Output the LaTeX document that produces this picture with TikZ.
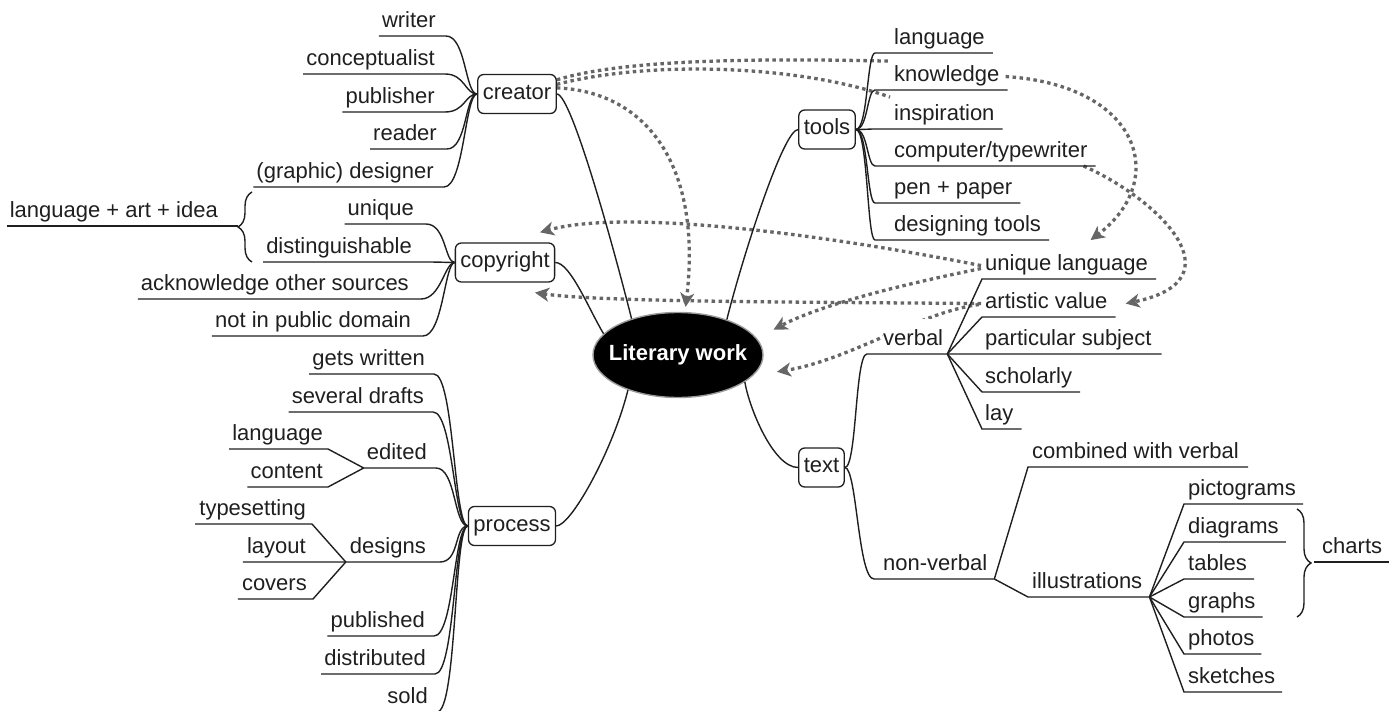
\documentclass[tikz,border=0pt]{standalone}
\usepackage{fontspec}
\setmainfont{Liberation Sans}
\usetikzlibrary{arrows.meta,decorations.pathreplacing,shapes.geometric}
\pgfdeclarelayer{bg}
\pgfsetlayers{bg,main}

\begin{document}
\begin{tikzpicture}[x=1pt,y=-1pt,
  font=\fontsize{22}{26}\selectfont,
  leaf/.style={inner xsep=0pt, inner ysep=2.5pt, text height=16pt, text depth=5.5pt, text=black!88},
  lft/.style={leaf, anchor=south east},
  rgt/.style={leaf, anchor=south west},
  topic/.style={draw=black!88, line width=1.3pt, rounded corners=6pt, fill=white,
    inner xsep=5pt, inner ysep=2pt, minimum height=39pt, text height=16pt, text depth=5.5pt, text=black!88},
  core/.style={ellipse, fill=black, draw=black!40, line width=1.4pt, minimum width=170pt,
    minimum height=85pt, inner sep=0pt, text=white, font=\fontsize{22}{26}\selectfont\bfseries},
  branch/.style={draw=black!88, line width=1.4pt},
  curly/.style={branch, decorate, decoration={brace, amplitude=14pt}},
  link/.style={draw=black!60, line width=3.3pt, dash pattern=on 3.5pt off 3.5pt},
  linkarrow/.style={link, -{Stealth[length=14pt,width=14pt,inset=4pt]}}
]
\useasboundingbox (0,0) rectangle (1397,711);

% central topic
\node[core] (lit) at (678,355) {\makebox[0pt]{Literary work}};

% main topics
\node[topic] (creator)   at (517,94)      {creator};
\node[topic] (copyright) at (505,262.5)   {copyright};
\node[topic] (process)   at (512,526)     {process};
\node[topic] (tools)     at (827,129.5)   {tools};
\node[topic] (text)      at (821.5,467.5) {text};

% creator
\node[lft] (writer)        at (436,36)  {writer};
\node[lft] (conceptualist) at (435,74)  {conceptualist};
\node[lft] (publisher)     at (435,112) {publisher};
\node[lft] (reader)        at (437,149) {reader};
\node[lft] (designer)      at (434,187) {(graphic) designer};

% copyright
\node[lft] (unique)       at (414,224) {unique};
\node[lft] (distinct)     at (412,262) {distinguishable};
\node[lft] (acknowledge)  at (409,299) {acknowledge other sources};
\node[lft] (notpublic)    at (411,336) {not in public domain};
\node[lft] (idea)         at (218,226) {language + art + idea};

% process
\node[lft] (getswritten)  at (425,374) {gets written};
\node[lft] (drafts)       at (424,412) {several drafts};
\node[lft] (edited)       at (427,468) {edited};
\node[lft] (planguage)    at (323,449) {language};
\node[lft] (content)      at (323,487) {content};
\node[lft] (designs)      at (426,562) {designs};
\node[lft] (typesetting)  at (306,524) {typesetting};
\node[lft] (layout)       at (306,562) {layout};
\node[lft] (covers)       at (307,599) {covers};
\node[lft] (published)    at (425,636) {published};
\node[lft] (distributed)  at (426,674) {distributed};
\node[lft] (sold)         at (428,712) {sold};

% tools
\node[rgt] (tlanguage)   at (894,53)  {language};
\node[rgt] (knowledge)   at (894,90)  {knowledge};
\node[rgt] (inspiration) at (894,129) {inspiration};
\node[rgt] (computer)    at (894,166) {computer/typewriter};
\node[rgt] (pen)         at (894,203) {pen + paper};
\node[rgt] (designing)   at (894,240) {designing tools};

% text
\node[rgt, fill=white, text height=24pt] (verbal) at (883,354) {verbal};
\node[rgt] (uniqlang)    at (985,279) {unique language};
\node[rgt] (artistic)    at (985,317) {artistic value};
\node[rgt] (particular)  at (985,354) {particular subject};
\node[rgt] (scholarly)   at (985,392) {scholarly};
\node[rgt] (lay)         at (985,429) {lay};
\node[rgt] (nonverbal)   at (883,579) {non-verbal};
\node[rgt] (combined)    at (1032,467) {combined with verbal};
\node[rgt] (illustrations) at (1032,597) {illustrations};
\node[rgt] (pictograms)  at (1188,504) {pictograms};
\node[rgt] (diagrams)    at (1188,542) {diagrams};
\node[rgt] (tables)      at (1188,579) {tables};
\node[rgt] (graphs)      at (1188,617) {graphs};
\node[rgt] (photos)      at (1188,654) {photos};
\node[rgt] (sketches)    at (1188,692) {sketches};
\node[rgt] (charts)      at (1322,562) {charts};

% main branches from the central topic
\draw[branch] (creator.east) .. controls +(15,0) and +(-15,-60) .. (lit.142);
\draw[branch] (copyright.east) .. controls +(15,0) and +(-15,-25) .. (lit.164);
\draw[branch] (tools.west) .. controls +(-15,0) and +(15,-60) .. (lit.36);
\draw[branch] (process.east) .. controls +(15,0) and +(-15,60) .. (lit.215);
\draw[branch] (text.west) .. controls +(-25,0) and +(4,25) .. (lit.338);

% creator branches
\foreach \c in {writer,conceptualist,publisher,reader,designer}
  \draw[branch] (creator.west) .. controls +(-12,0) and +(20,0) .. ([xshift=10pt]\c.south east) -- ([xshift=-3pt]\c.south west);

% copyright branches
\foreach \c in {unique,distinct,acknowledge,notpublic}
  \draw[branch] (copyright.west) .. controls +(-10,0) and +(20,0) .. ([xshift=12pt]\c.south east) -- ([xshift=-3pt]\c.south west);
\draw[curly] (252,262) -- (252,192);
\draw[branch] ([xshift=-3pt]idea.south west) -- ([xshift=20pt]idea.south east);

% process branches
\foreach \c in {getswritten,drafts,edited,published,distributed,sold}
  \draw[branch] (process.west) .. controls +(-14,0) and +(20,0) .. ([xshift=9pt]\c.south east) -- ([xshift=-3pt]\c.south west);
\draw[branch] (process.west) .. controls +(-14,0) and +(20,0) .. ([xshift=14pt]designs.south east) -- ([xshift=-4pt]designs.south west) -- ([xshift=-4pt]layout.south west);
\foreach \c in {planguage,content}
  \draw[branch] ([xshift=-3pt]edited.south west) -- ([xshift=5pt]\c.south east) -- ([xshift=-3pt]\c.south west);
\foreach \c in {typesetting,covers}
  \draw[branch] ([xshift=-4pt]designs.south west) -- ([xshift=6pt]\c.south east) -- ([xshift=-4pt]\c.south west);

% tools branches
\foreach \c in {tlanguage,knowledge,inspiration,computer,pen,designing}
  \draw[branch] (tools.east) .. controls +(12,0) and +(-8,0) .. ([xshift=-19pt]\c.south west) -- ([xshift=8pt]\c.south east);

% text branches
\draw[branch] (text.east) .. controls +(12,0) and +(-12,0) .. ([xshift=-16pt]verbal.south west) -- ([xshift=4pt]verbal.south east) -- ([xshift=10pt]particular.south east);
\foreach \c in {uniqlang,artistic,scholarly,lay}
  \draw[branch] ([xshift=4pt]verbal.south east) -- ([xshift=-3pt]\c.south west) -- ([xshift=8pt]\c.south east);

\draw[branch] (text.east) .. controls +(12,0) and +(-16,0) .. ([xshift=-9pt]nonverbal.south west) -- ([xshift=7pt]nonverbal.south east);
\draw[branch] ([xshift=7pt]nonverbal.south east) -- ([xshift=-4pt]combined.south west) -- ([xshift=9pt]combined.south east);
\draw[branch] ([xshift=7pt]nonverbal.south east) -- ([xshift=-4pt]illustrations.south west) -- ([xshift=7pt]illustrations.south east);
\foreach \c in {pictograms,diagrams,tables,graphs,photos,sketches}
  \draw[branch] ([xshift=7pt]illustrations.south east) -- ([xshift=-4pt]\c.south west) -- ([xshift=7pt]\c.south east);
\draw[curly] (1297,509) -- (1297,617);
\draw[branch] ([xshift=-8pt]charts.south west) -- ([xshift=7pt]charts.south east);

% cross links
\begin{pgfonlayer}{bg}
\draw[link] ([yshift=-6pt]creator.north east) .. controls (620,60) and (750,58) .. ([xshift=-6pt,yshift=2pt]knowledge.north west);
\draw[link] ([yshift=-10.5pt]creator.north east) .. controls (650,60) and (800,65) .. ([xshift=-4pt,yshift=5pt]inspiration.north west);
\draw[linkarrow] ([yshift=-14pt]creator.north east) .. controls (650,92) and (702,170) .. ([yshift=5pt]lit.80);
\draw[linkarrow] ([xshift=6pt]knowledge.east) .. controls (1140,85) and (1170,180) .. ([xshift=24pt,yshift=12pt]uniqlang.north);
\draw[linkarrow] ([xshift=-4pt]computer.south east) .. controls (1160,200) and (1240,280) .. ([xshift=18pt]artistic.east);
\draw[linkarrow] ([xshift=-4pt]uniqlang.west) .. controls (800,230) and (620,210) .. ([xshift=35pt,yshift=10pt]copyright.north);
\draw[linkarrow] ([xshift=-4pt]artistic.west) .. controls (800,302) and (600,302) .. ([xshift=30pt,yshift=-10pt]copyright.south);
\draw[linkarrow] ([xshift=-4pt,yshift=-3pt]uniqlang.west) .. controls (900,285) and (820,305) .. ([xshift=26pt]lit.20);
\draw[linkarrow] ([xshift=-6pt,yshift=-1pt]artistic.west) .. controls (920,312) and (850,360) .. ([xshift=20pt]lit.-12);
\end{pgfonlayer}
\end{tikzpicture}
\end{document}
